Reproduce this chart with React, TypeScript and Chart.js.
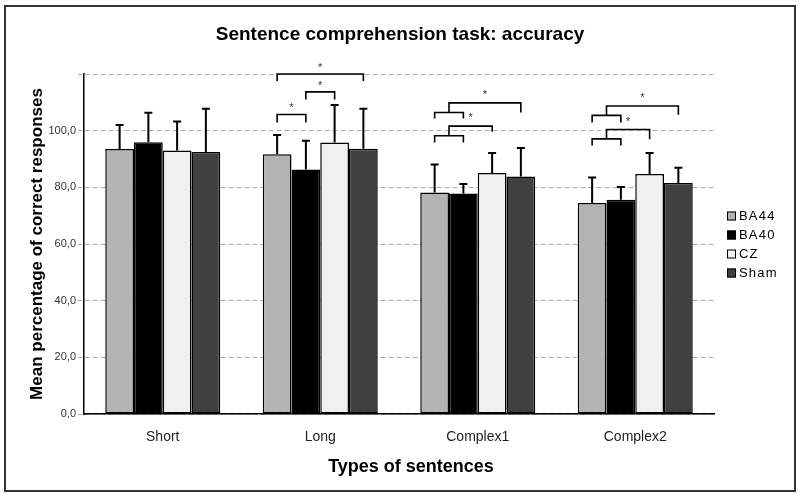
import React, { useEffect, useRef } from 'react';
import { Chart, registerables } from 'chart.js';

Chart.register(...registerables);

const FONT = '"Liberation Sans", Arial, Helvetica, sans-serif';

// ---- data ----
const categories = ['Short', 'Long', 'Complex1', 'Complex2'];
const seriesNames = ['BA44', 'BA40', 'CZ', 'Sham'];
const ba44 = [93.5, 91.7, 78.2, 74.5];
const ba40 = [95.9, 86.3, 77.8, 75.6];
const cz = [93.0, 95.8, 85.1, 84.7];
const sham = [92.5, 93.6, 83.8, 81.5];
const ba44Sd = [8.5, 6.8, 9.9, 9.0];
const ba40Sd = [10.4, 10.1, 3.4, 4.5];
const czSd = [10.2, 13.3, 7.0, 7.4];
const shamSd = [15.2, 14.1, 10.1, 5.4];
const seriesColors = ['#b3b3b3', '#000000', '#f0f0f0', '#404040'];
const yTicks = [0, 20, 40, 60, 80, 100, 120];

// simple brackets: [category, fromSeries, toSeries, level, drop, starLevel]
const simpleBrackets = [
  [1, 0, 1, 105.7, 2.8, 107.9],
  [1, 1, 2, 113.7, 2.7, 115.8],
  [1, 0, 3, 120.0, 2.5, 122.0],
];
// compound brackets: [category, pairA, pairB, pairLevel, pairDrop, target, upperLevel, targetDrop, starLevel]
const compoundBrackets = [
  [2, 0, 1, 98.2, 2.4, 2, 101.6, 2.0, 104.4],
  [2, 0, 1, 106.4, 2.1, 3, 109.8, 3.4, 112.5],
  [3, 0, 1, 97.1, 2.3, 2, 100.4, 3.4, 103.0],
  [3, 0, 1, 105.4, 2.5, 3, 108.7, 3.1, 111.4],
];

const values = [ba44, ba40, cz, sham];
const sds = [ba44Sd, ba40Sd, czSd, shamSd];

const errorBarPlugin = {
  id: 'errorBars',
  afterDatasetsDraw(chart: any) {
    const ctx = chart.ctx;
    const y = chart.scales.y;
    chart.data.datasets.forEach((ds: any, di: number) => {
      const meta = chart.getDatasetMeta(di);
      meta.data.forEach((bar: any, i: number) => {
        const top = y.getPixelForValue(values[di][i] + sds[di][i]);
        ctx.save();
        ctx.strokeStyle = '#000';
        ctx.lineWidth = 2;
        ctx.beginPath();
        ctx.moveTo(bar.x, bar.y);
        ctx.lineTo(bar.x, top);
        ctx.moveTo(bar.x - 4, top);
        ctx.lineTo(bar.x + 4, top);
        ctx.stroke();
        ctx.restore();
      });
    });
  },
};

const bracketPlugin = {
  id: 'brackets',
  afterDatasetsDraw(chart: any) {
    const ctx = chart.ctx;
    const y = chart.scales.y;
    const bx = (s: number, c: number) => chart.getDatasetMeta(s).data[c].x;
    ctx.save();
    ctx.strokeStyle = '#000';
    ctx.lineWidth = 1.6;
    ctx.fillStyle = '#333';
    ctx.font = `11px ${FONT}`;
    ctx.textAlign = 'center';
    ctx.textBaseline = 'middle';
    simpleBrackets.forEach(([c, a, b, lvl, drop, star]) => {
      const x1 = bx(a, c), x2 = bx(b, c);
      const yl = y.getPixelForValue(lvl), yd = y.getPixelForValue(lvl - drop);
      ctx.beginPath();
      ctx.moveTo(x1, yd);
      ctx.lineTo(x1, yl);
      ctx.lineTo(x2, yl);
      ctx.lineTo(x2, yd);
      ctx.stroke();
      ctx.fillText('*', (x1 + x2) / 2, y.getPixelForValue(star));
    });
    compoundBrackets.forEach(([c, a, b, lvl, drop, t, up, tdrop, star]) => {
      const x1 = bx(a, c), x2 = bx(b, c), xt = bx(t, c);
      const xm = (x1 + x2) / 2;
      const yl = y.getPixelForValue(lvl), yd = y.getPixelForValue(lvl - drop);
      const yu = y.getPixelForValue(up), ytd = y.getPixelForValue(up - tdrop);
      ctx.beginPath();
      ctx.moveTo(x1, yd);
      ctx.lineTo(x1, yl);
      ctx.lineTo(x2, yl);
      ctx.lineTo(x2, yd);
      ctx.moveTo(xm, yl);
      ctx.lineTo(xm, yu);
      ctx.lineTo(xt, yu);
      ctx.lineTo(xt, ytd);
      ctx.stroke();
      ctx.fillText('*', (xm + xt) / 2, y.getPixelForValue(star));
    });
    ctx.restore();
  },
};

const decorPlugin = {
  id: 'decor',
  afterDraw(chart: any) {
    const ctx = chart.ctx;
    const area = chart.chartArea;
    ctx.save();
    // titles
    ctx.fillStyle = '#000';
    ctx.textAlign = 'center';
    ctx.textBaseline = 'middle';
    ctx.font = `bold 19px ${FONT}`;
    ctx.fillText('Sentence comprehension task: accuracy', 400, 35);
    ctx.font = `bold 18px ${FONT}`;
    ctx.fillText('Types of sentences', 411, 467);
    ctx.save();
    ctx.translate(37, (area.top + area.bottom) / 2);
    ctx.rotate(-Math.PI / 2);
    ctx.font = `bold 17px ${FONT}`;
    ctx.fillText('Mean percentage of correct responses', 0, 0);
    ctx.restore();
    // legend
    const rows = [216, 235, 254, 273];
    seriesNames.forEach((name, i) => {
      const cy = rows[i];
      ctx.fillStyle = seriesColors[i];
      ctx.fillRect(727, cy - 4.5, 9, 9);
      ctx.strokeStyle = '#000';
      ctx.lineWidth = 1;
      ctx.strokeRect(727.5, cy - 4, 8, 8);
      ctx.fillStyle = '#000';
      ctx.textAlign = 'left';
      ctx.font = `13px ${FONT}`;
      (ctx as any).letterSpacing = '1.2px';
      ctx.fillText(name, 739, cy + 0.5);
      (ctx as any).letterSpacing = '0px';
    });
    // frame
    ctx.strokeStyle = '#333';
    ctx.lineWidth = 2;
    ctx.strokeRect(5, 6, 790, 485);
    ctx.restore();
  },
};

function App() {
  const ref = useRef<HTMLCanvasElement | null>(null);
  useEffect(() => {
    if (!ref.current) return;
    const chart = new Chart(ref.current, {
      type: 'bar',
      data: {
        labels: categories,
        datasets: seriesNames.map((name, i) => ({
          label: name,
          data: values[i],
          backgroundColor: seriesColors[i],
          borderColor: '#000',
          borderWidth: 1.5,
          borderSkipped: false,
          barPercentage: 1,
          categoryPercentage: 0.73,
        })),
      },
      options: {
        responsive: false,
        animation: false,
        devicePixelRatio: 1,
        layout: { padding: { left: 0, right: 86, top: 74, bottom: 0 } },
        plugins: {
          legend: { display: false },
          title: { display: false },
          tooltip: { enabled: false },
        },
        scales: {
          x: {
            grid: { display: true, drawOnChartArea: false, drawTicks: false },
            border: { display: true, color: '#000', width: 1.5 },
            ticks: { color: '#222', font: { family: FONT, size: 14 }, padding: 15 },
            afterFit: (s: any) => {
              s.height = 83;
              s.paddingLeft = 0;
              s.paddingRight = 0;
            },
          },
          y: {
            min: 0,
            max: 120,
            afterBuildTicks: (s: any) => {
              s.ticks = yTicks.map((v) => ({ value: v }));
            },
            ticks: {
              color: '#333',
              font: { family: FONT, size: 11 },
              padding: 2,
              callback: (v: any) => (v === 120 ? '' : Number(v).toFixed(1).replace('.', ',')),
            },
            grid: {
              color: '#aaa',
              lineWidth: 1,
              tickLength: 6,
              tickColor: '#aaa',
              tickBorderDash: [4, 3],
            },
            border: { display: true, color: '#000', width: 1.5, dash: [5, 3] },
            afterFit: (s: any) => {
              s.width = 84;
              s.paddingTop = 0;
              s.paddingBottom = 0;
            },
          },
        },
      },
      plugins: [errorBarPlugin, bracketPlugin, decorPlugin],
    } as any);
    return () => chart.destroy();
  }, []);
  return (
    <div style={{ position: 'absolute', left: 0, top: 0, width: 800, height: 497, background: '#fff' }}>
      <canvas ref={ref} width={800} height={497} style={{ display: 'block' }} />
    </div>
  );
}

export default App;
